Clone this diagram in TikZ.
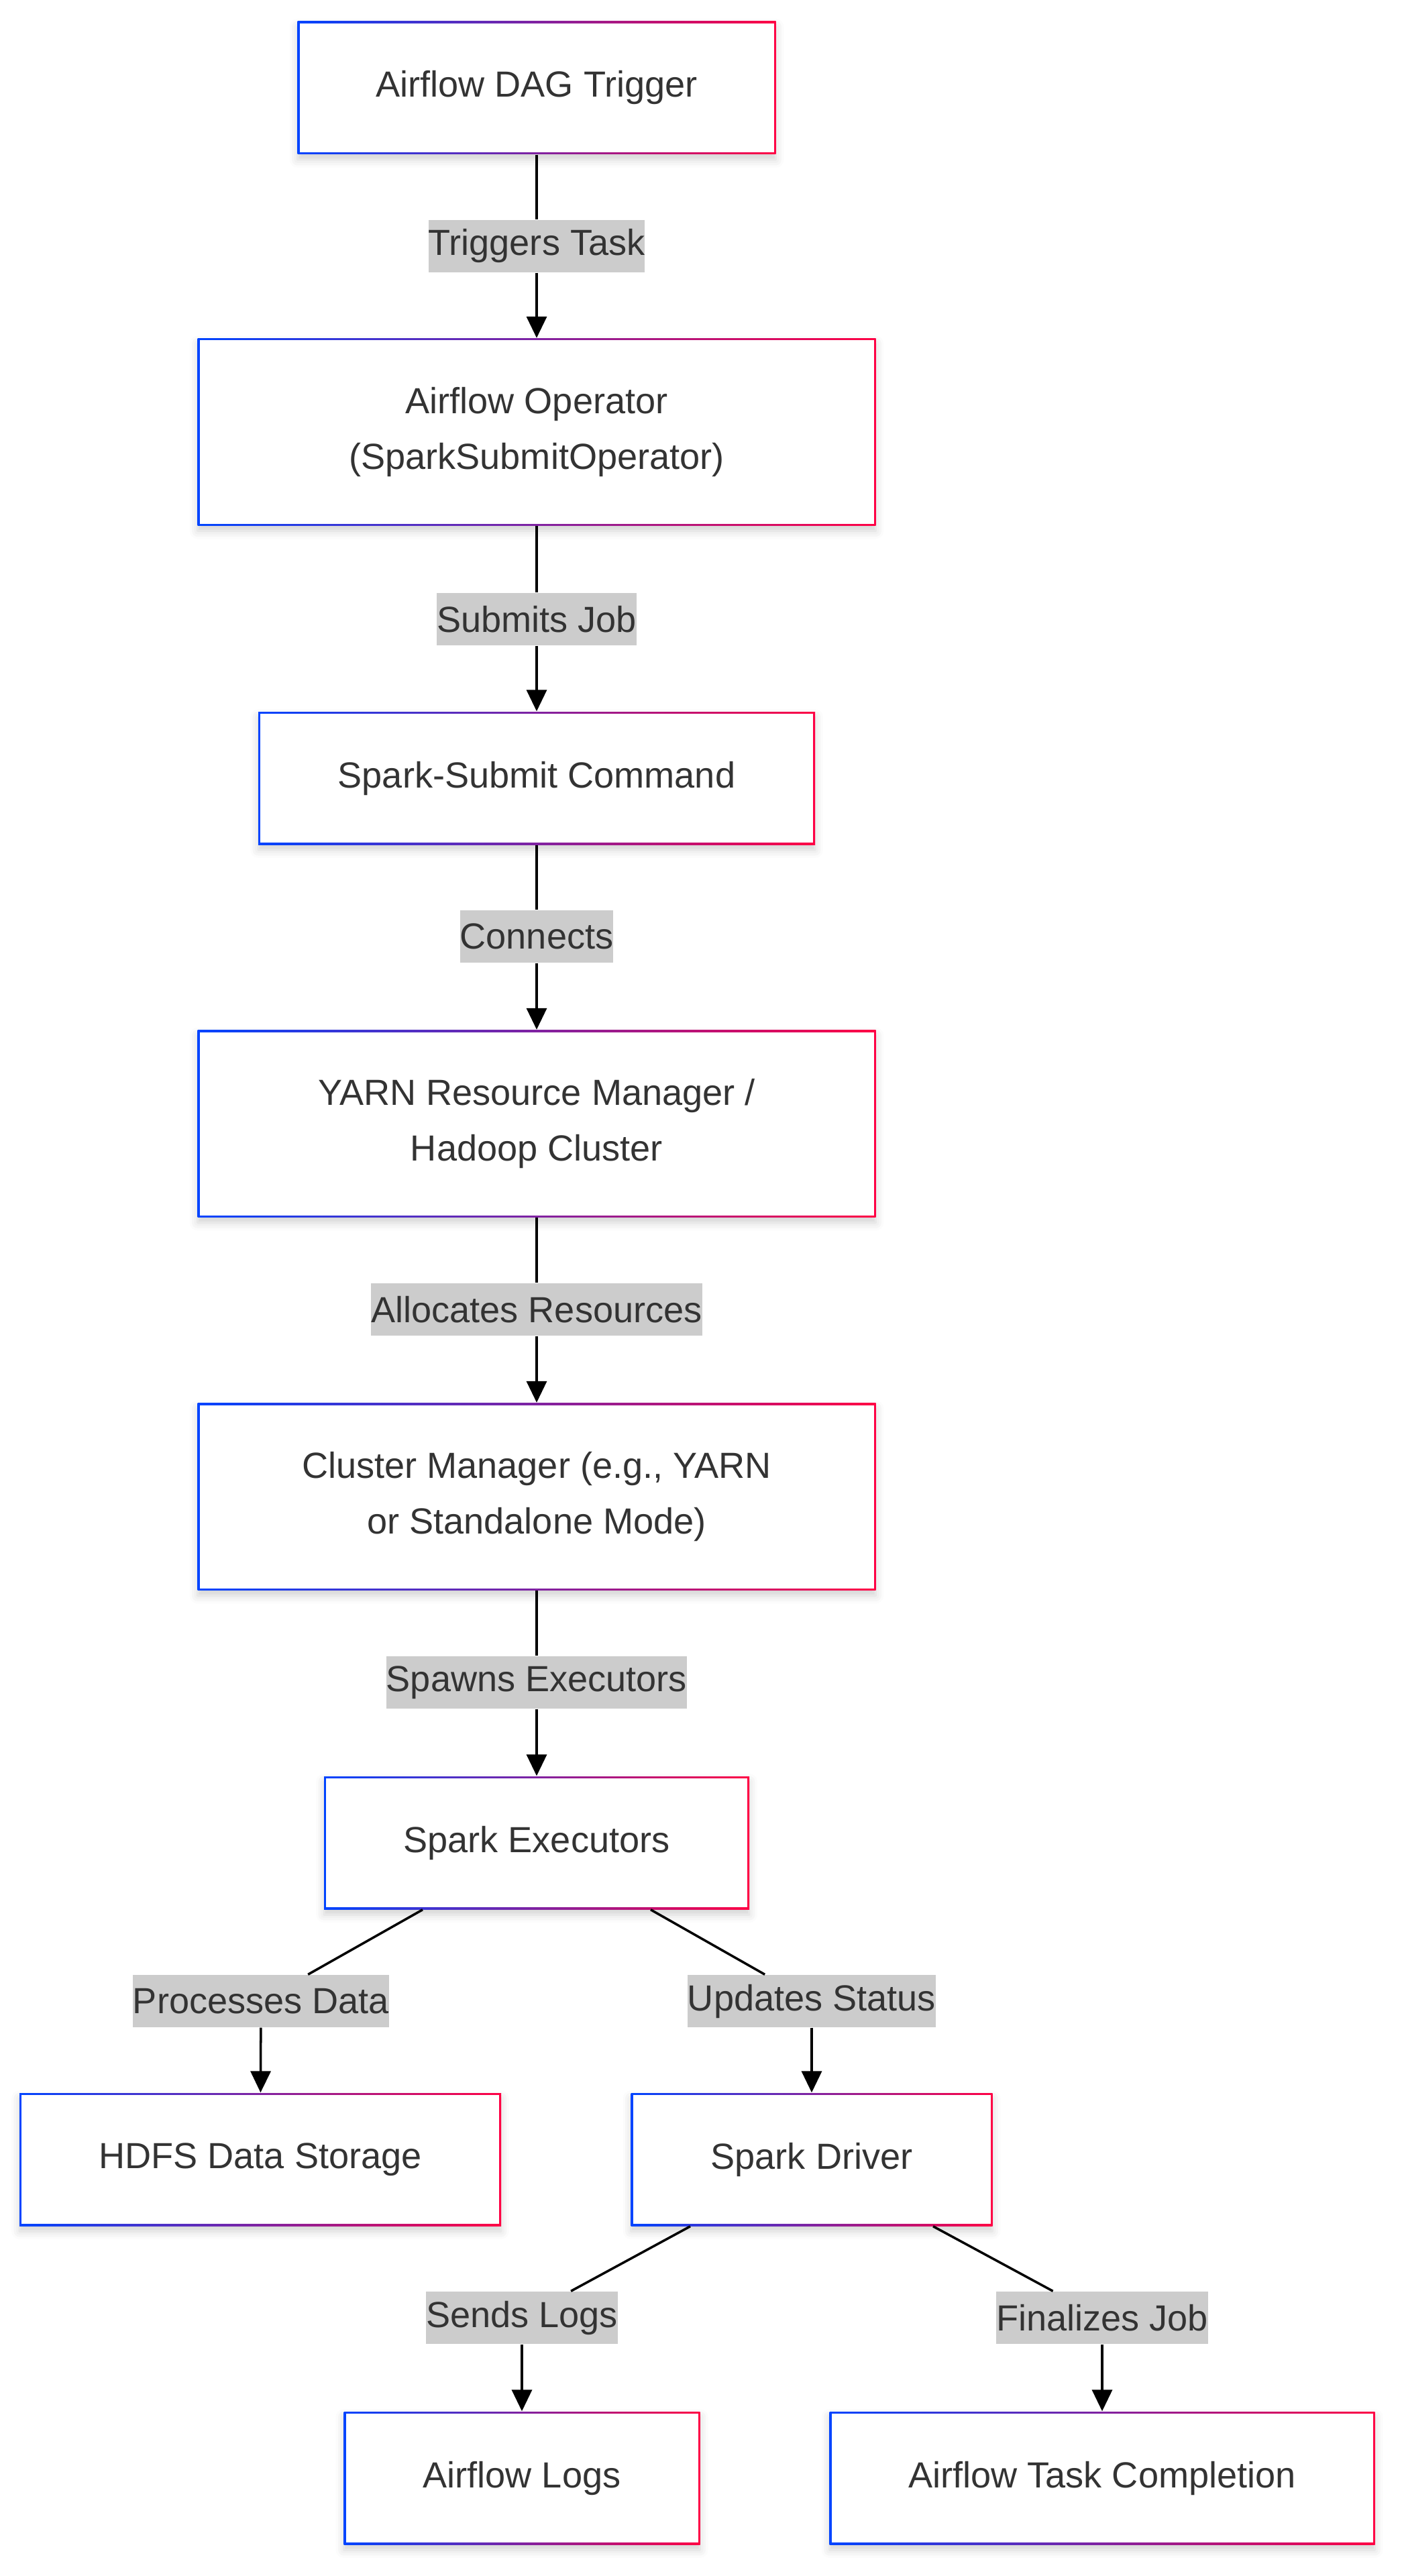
\documentclass[tikz,border=0pt]{standalone}
\usepackage{fontspec}
\setmainfont{Liberation Sans}
\usetikzlibrary{arrows.meta,shadows.blur}

\begin{document}
\begin{tikzpicture}[
    stage/.style={rectangle, minimum height=1.98cm, align=center, text=text_dark,
        font=\fontsize{15.4}{23.6}\selectfont, fill=white,
        blur shadow={shadow xshift=0pt, shadow yshift=-0.08cm, shadow blur radius=0.12cm, shadow opacity=18},
        path picture={
            \shade[left color=grad_blue, right color=grad_red]
                (path picture bounding box.south west) rectangle (path picture bounding box.north east);
            \fill[white] ([shift={(0.03,0.03)}]path picture bounding box.south west)
                rectangle ([shift={(-0.03,-0.03)}]path picture bounding box.north east);
        }},
    tall/.style={minimum height=2.79cm},
    edgelabel/.style={fill=label_gray, text=text_dark, inner xsep=0pt, inner ysep=0pt,
        minimum height=0.78cm, font=\fontsize{15.4}{18}\selectfont},
    link/.style={line width=1pt},
    flow/.style={link, -{Triangle[length=0.32cm,width=0.3cm]}},
]
    \definecolor{grad_blue}{HTML}{0044FF}
    \definecolor{grad_red}{HTML}{FF0044}
    \definecolor{label_gray}{HTML}{CCCCCC}
    \definecolor{text_dark}{HTML}{333333}
    \useasboundingbox (0,0) rectangle (20.89,-38.40);
    %\draw[help lines] (0,0) grid (21,-39);

    % main column
    \node[stage, minimum width=7.13cm] (dag) at (8.00,-1.31) {Airflow DAG Trigger};
    \node[stage, tall, minimum width=10.11cm] (operator) at (8.00,-6.44) {Airflow Operator\\(SparkSubmitOperator)};
    \node[stage, minimum width=8.30cm] (submit) at (8.00,-11.60) {Spark-Submit Command};
    \node[stage, tall, minimum width=10.11cm] (yarn) at (8.00,-16.75) {YARN Resource Manager /\\Hadoop Cluster};
    \node[stage, tall, minimum width=10.11cm] (cluster) at (8.00,-22.31) {Cluster Manager (e.g., YARN\\or Standalone Mode)};
    \node[stage, minimum width=6.34cm] (executors) at (8.00,-27.47) {Spark Executors};

    % branches
    \node[stage, minimum width=7.18cm] (hdfs) at (3.88,-32.19) {HDFS Data Storage};
    \node[stage, minimum width=5.39cm] (driver) at (12.10,-32.19) {Spark Driver};
    \node[stage, minimum width=5.31cm] (logs) at (7.78,-36.94) {Airflow Logs};
    \node[stage, minimum width=8.13cm] (completion) at (16.43,-36.94) {Airflow Task Completion};

    % edge labels
    \node[edgelabel] (trig) at (8.00,-3.67) {Triggers Task};
    \node[edgelabel] (subjob) at (8.00,-9.23) {Submits Job};
    \node[edgelabel] (conn) at (8.00,-13.96) {Connects};
    \node[edgelabel] (alloc) at (8.00,-19.52) {Allocates Resources};
    \node[edgelabel] (spawn) at (8.00,-25.08) {Spawns Executors};
    \node[edgelabel] (procdata) at (3.89,-29.83) {Processes Data};
    \node[edgelabel] (status) at (12.10,-29.83) {Updates Status};
    \node[edgelabel] (sendlogs) at (7.78,-34.55) {Sends Logs};
    \node[edgelabel] (finalize) at (16.43,-34.55) {Finalizes Job};

    % connectors
    \draw[link] (dag) -- (trig);
    \draw[flow] (trig) -- (operator);
    \draw[link] (operator) -- (subjob);
    \draw[flow] (subjob) -- (submit);
    \draw[link] (submit) -- (conn);
    \draw[flow] (conn) -- (yarn);
    \draw[link] (yarn) -- (alloc);
    \draw[flow] (alloc) -- (cluster);
    \draw[link] (cluster) -- (spawn);
    \draw[flow] (spawn) -- (executors);

    \draw[link] ([xshift=-1.70cm]executors.south) -- (procdata);
    \draw[flow] (procdata) -- (hdfs);
    \draw[link] ([xshift=1.70cm]executors.south) -- (status);
    \draw[flow] (status) -- (driver);

    \draw[link] ([xshift=-1.81cm]driver.south) -- (sendlogs);
    \draw[flow] (sendlogs) -- (logs);
    \draw[link] ([xshift=1.81cm]driver.south) -- (finalize);
    \draw[flow] (finalize) -- (completion);
\end{tikzpicture}
\end{document}
